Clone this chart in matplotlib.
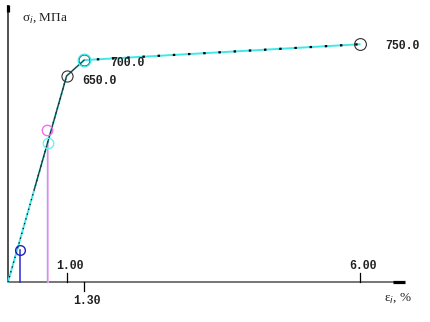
import matplotlib
matplotlib.use("Agg")
import matplotlib.pyplot as plt

# data
strain_main = [0.0, 1.00, 1.30, 6.00]
stress_main = [0.0, 650.0, 700.0, 750.0]
strain_black = [0.45, 1.00, 1.30]
stress_black = [293.0, 650.0, 700.0]
label_strain = [1.00, 1.30, 6.00]
label_stress = [650.0, 700.0, 750.0]
value_labels = ["650.0", "700.0", "750.0"]
tick_values = [1.00, 1.30, 6.00]
tick_labels = ["1.00", "1.30", "6.00"]
blue_pt = (0.21, 101.0)
magenta_pt = (0.67, 480.0)
cyan_pt = (0.68, 438.0)

W, H = 430, 322
fig = plt.figure(figsize=(W / 100, H / 100), dpi=100)
ax = fig.add_axes([0, 0, 1, 1])
px_x = 58.6   # px per % strain
px_y = 0.317  # px per MPa
x0, y0 = 8, 282
ax.set_xlim(-x0 / px_x, (W - x0) / px_x)
ax.set_ylim(-(H - y0) / px_y, y0 / px_y)
ax.axis("off")

def dx(p):
    return p / px_x

def dy(p):
    return p / px_y

mono = dict(family="Liberation Mono", weight="bold", fontsize=8.3, color="#202020")

# axes lines
ax.plot([0, 0], [0, dy(y0 - 5)], color="#505050", lw=1.4, solid_capstyle="butt")
ax.plot([0, 0], [dy(y0 - 12), dy(y0 - 5)], color="black", lw=2.3, solid_capstyle="butt")
ax.plot([0, dx(405 - x0)], [0, 0], color="#505050", lw=1.1, solid_capstyle="butt")
ax.plot([dx(393 - x0), dx(405 - x0)], [0, 0], color="black", lw=2.3, solid_capstyle="butt")

# ticks
for v, t in zip(tick_values, tick_labels):
    if t == "1.30":
        ax.plot([v, v], [0, -dy(9)], color="black", lw=0.9)
        ax.text(v + dx(3), -dy(19), t, ha="center", va="center", **mono)
    else:
        ax.plot([v, v], [0, dy(9)], color="black", lw=0.9)
        ax.text(v + dx(3), dy(16), t, ha="center", va="center", **mono)

# vertical drop lines
ax.plot([blue_pt[0], blue_pt[0]], [0, blue_pt[1]], color="#2b2bd0", lw=1.1)
ax.plot([magenta_pt[0], magenta_pt[0]], [0, cyan_pt[1]], color="#a8a0ff", lw=1.0)
ax.plot([magenta_pt[0] + 0.012, magenta_pt[0] + 0.012], [0, cyan_pt[1]], color="#f0b0f0", lw=0.6)

# main cyan curve with black dots
ax.plot(strain_main, stress_main, color="#40e8e8", lw=1.4)
ax.plot(strain_main[:2], stress_main[:2], color="black", lw=0.9, ls=(0, (1, 3)))
ax.plot(strain_main[2:], stress_main[2:], color="black", lw=1.6, ls=(8, (1.1, 5.75)))
# black solid curve
ax.plot(strain_black, stress_black, color="#303030", lw=0.8)

# circles
ax.plot(label_strain[:2], label_stress[:2], ls="none", marker="o", ms=8, mfc="none",
        mec="#303030", mew=0.8)
ax.plot([label_strain[1]], [label_stress[1]], ls="none", marker="o", ms=9,
        mfc="none", mec="#40e8e8", mew=1.0)
ax.plot([label_strain[2]], [label_stress[2]], ls="none", marker="o", ms=8.5, mfc="none",
        mec="#303030", mew=0.8)
ax.plot([blue_pt[0]], [blue_pt[1]], ls="none", marker="o", ms=7, mfc="none",
        mec="#2020c0", mew=1.0)
ax.plot([magenta_pt[0]], [magenta_pt[1]], ls="none", marker="o", ms=7.5, mfc="none",
        mec="#f070f0", mew=1.0)
ax.plot([cyan_pt[0]], [cyan_pt[1]], ls="none", marker="o", ms=7.5, mfc="none",
        mec="#70f0f0", mew=1.0)

# value labels
offsets = [(dx(33), -dy(5)), (dx(43), -dy(3)), (dx(43), -dy(2))]
for xs, ys, t, (ox, oy) in zip(label_strain, label_stress, value_labels, offsets):
    ax.text(xs + ox, ys + oy, t, ha="center", va="center", **mono)

# axis titles
ax.text(dx(22 - x0), dy(y0 - 18), r"σ$_i$, МПа", ha="left", va="center",
        fontsize=9.5, family="Liberation Serif", color="#202020")
ax.text(dx(384 - x0), -dy(298 - y0), r"ε$_i$, %", ha="left", va="center",
        fontsize=9.5, family="Liberation Serif", color="#202020")

fig.savefig("out.png", dpi=100)
